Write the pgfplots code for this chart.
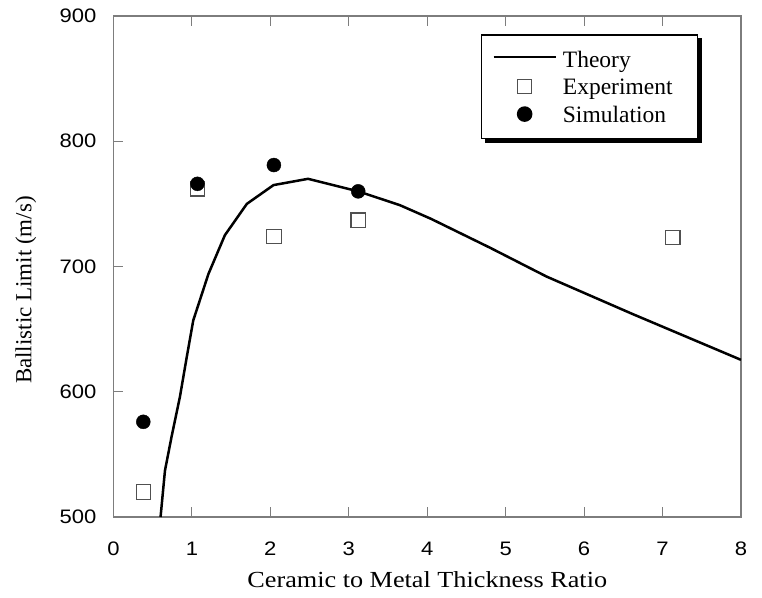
\documentclass[border=0pt]{standalone}
\usepackage{pgfplots}
\pgfplotsset{compat=1.18}
\usepackage{fontspec}
\setmainfont{Liberation Serif}
\newfontfamily\wideserif{Liberation Serif}[FakeStretch=1.14]
\newfontfamily\widesans{Liberation Sans}[FakeStretch=1.13]
\definecolor{axgray}{RGB}{125,125,125}
\definecolor{mkgray}{RGB}{80,80,80}
\pgfplotsset{
  lineleg/.style={legend image code/.code={\draw[##1] (0pt,2pt) -- (62pt,2pt);}},
  markleg/.style={legend image code/.code={\draw[mark repeat=2,mark phase=2,##1] plot coordinates {(0pt,0pt) (31pt,0pt) (62pt,0pt)};}},
}
\begin{document}
\begin{tikzpicture}
\useasboundingbox (-113.5pt,-80pt) rectangle (648.5pt,517pt);
\begin{axis}[
  scale only axis,
  width=627.5pt, height=501pt,
  xmin=0, xmax=8, ymin=500, ymax=900,
  xtick={0,1,...,8}, ytick={500,600,700,800,900},
  xtick pos=both, ytick pos=left,
  tick align=inside,
  major tick length=10pt,
  axis line style={axgray, line width=1.2pt},
  every tick/.style={axgray, line width=1pt},
  /pgf/number format/assume math mode=true,
  ticklabel style={font=\widesans\fontsize{19.5}{19.5}\selectfont},
  yticklabel style={anchor=east, inner sep=0pt, xshift=-17pt},
  xticklabel style={anchor=north, inner sep=0pt, yshift=-25pt},
  xlabel={Ceramic to Metal Thickness Ratio},
  ylabel={Ballistic Limit (m/s)},
  xlabel style={at={(axis description cs:0.5,-0.1417)}, anchor=base, inner sep=0pt, font=\wideserif\fontsize{23}{23}\selectfont},
  ylabel style={at={(axis description cs:-0.1307,0.453)}, anchor=base, inner sep=0pt, font=\fontsize{23}{23}\selectfont},
  legend cell align=left,
  legend style={
    name=leg,
    at={(axis description cs:0.932,0.964)}, anchor=north east,
    draw=black, line width=1.6pt, fill=white,
    font=\fontsize{23.5}{23.5}\selectfont,
    inner xsep=11pt, inner ysep=13.5pt,
    row sep=6pt,
    nodes={inner sep=0pt, text height=19pt, text depth=2.5pt},
    /tikz/every odd column/.append style={column sep=6pt},
  },
]
\addplot[black, line width=2.5pt, mark=none, lineleg]
  coordinates {
  (0.60,500) (0.656,537) (0.74,564) (0.847,596) (0.932,627) (1.017,657)
  (1.21,694) (1.42,725) (1.70,750) (2.04,765) (2.48,770) (3.12,760)
  (3.65,749) (4.05,738) (4.80,715) (5.52,692) (6.62,662) (7.98,626) (8.0,625.5)
  };
\addlegendentry{Theory}
\addplot[only marks, mark=square, mark size=7.2pt, mark options={draw=mkgray, fill=white, line width=1.2pt}, markleg]
  coordinates {(0.38,520) (1.07,762) (2.045,724) (3.12,737) (7.13,723)};
\addlegendentry{Experiment\kern14pt}
\addplot[only marks, mark=*, mark size=7pt, mark options={draw=black, fill=black}, markleg]
  coordinates {(0.38,576) (1.07,766) (2.045,781) (3.12,760)};
\addlegendentry{Simulation}
\end{axis}
\fill[black] ([yshift=-4pt]leg.north east) rectangle ([xshift=4pt,yshift=-4pt]leg.south east);
\fill[black] ([xshift=4pt]leg.south west) rectangle ([xshift=4pt,yshift=-4pt]leg.south east);
\end{tikzpicture}
\end{document}
